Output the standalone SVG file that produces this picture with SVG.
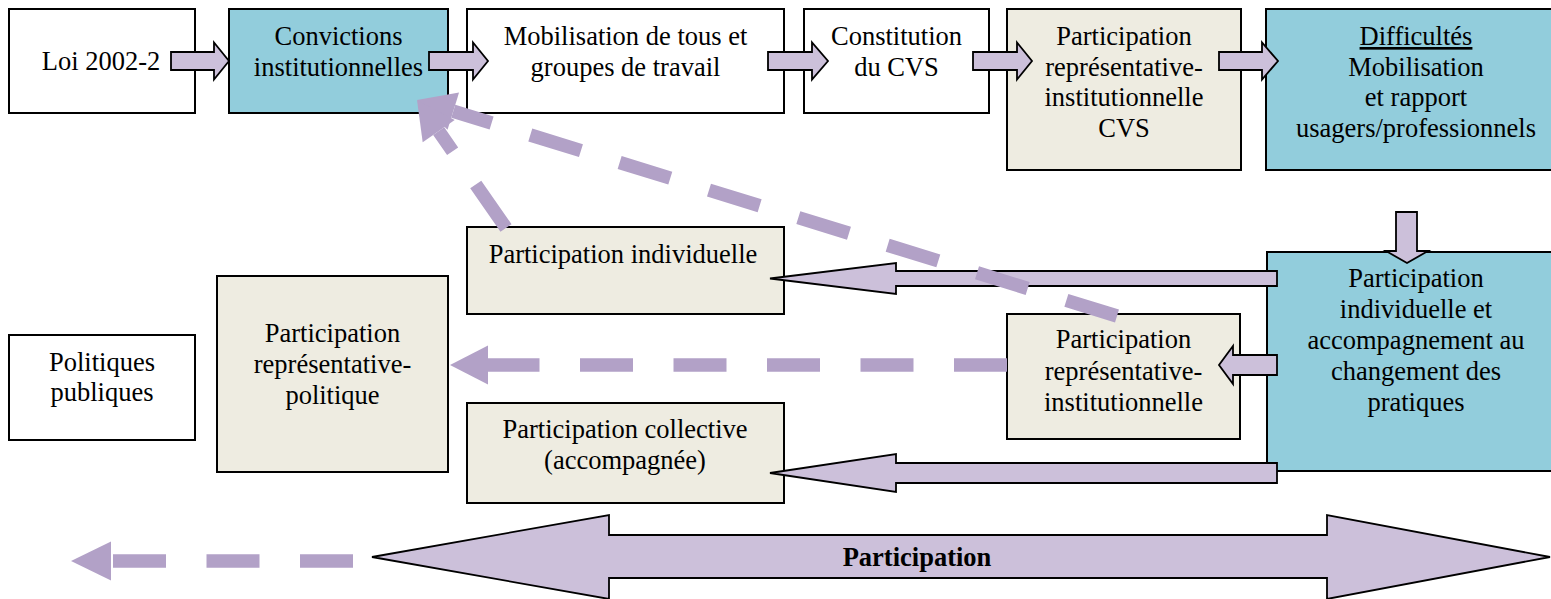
<svg xmlns="http://www.w3.org/2000/svg" width="1551" height="599" viewBox="0 0 1551 599">
<style>
.box{stroke:#000;stroke-width:2}
.white{fill:#fff}
.blue{fill:#92CDDC}
.beige{fill:#EEECE1}
.blk{fill:#CCC0DA;stroke:#000;stroke-width:1.8;stroke-linejoin:miter}
.dash{fill:none;stroke:#B2A1C7;stroke-width:13.5;stroke-dasharray:53 40.5}
.head{fill:#B2A1C7}
text{font-family:"Liberation Serif","Times New Roman",serif;font-size:26.5px;fill:#000;text-anchor:middle}
.bold{font-weight:bold}
.ul{text-decoration:underline}
</style>
<rect width="1551" height="599" fill="#fff"/>
<g id="loi"><rect class="box white" x="9" y="9" width="186" height="104"/><text x="101" y="70">Loi 2002-2</text></g>
<g id="convictions"><rect class="box blue" x="229" y="9" width="219" height="104"/><text x="338.5" y="45">Convictions</text><text x="338.5" y="76">institutionnelles</text></g>
<g id="mobilisation"><rect class="box white" x="467" y="9" width="317" height="104"/><text x="625.5" y="45">Mobilisation de tous et</text><text x="625.5" y="76">groupes de travail</text></g>
<g id="constitution"><rect class="box white" x="804" y="9" width="185" height="104"/><text x="896.5" y="45">Constitution</text><text x="896.5" y="76">du CVS</text></g>
<g id="cvs"><rect class="box beige" x="1007" y="9" width="234" height="161"/><text x="1124" y="45">Participation</text><text x="1124" y="75.7">représentative-</text><text x="1124" y="106.4">institutionnelle</text><text x="1124" y="137">CVS</text></g>
<g id="difficultes"><rect class="box blue" x="1266" y="9" width="300" height="161"/><text x="1416" y="45"><tspan class="ul">Difficultés</tspan></text><text x="1416" y="75.7">Mobilisation</text><text x="1416" y="106.4">et rapport</text><text x="1416" y="137">usagers/professionnels</text></g>
<g id="part-indiv"><rect class="box beige" x="467" y="227" width="317" height="87"/><text x="623" y="263">Participation individuelle</text></g>
<g id="part-coll"><rect class="box beige" x="467" y="403" width="317" height="100"/><text x="625" y="438">Participation collective</text><text x="625" y="469">(accompagnée)</text></g>
<g id="politiques"><rect class="box white" x="9" y="335" width="186" height="105"/><text x="102" y="370.5">Politiques</text><text x="102" y="401">publiques</text></g>
<g id="repr-politique"><rect class="box beige" x="217" y="276" width="231" height="196"/><text x="332.5" y="342">Participation</text><text x="332.5" y="373">représentative-</text><text x="332.5" y="404">politique</text></g>
<g id="repr-inst"><rect class="box beige" x="1007" y="314" width="233" height="125"/><text x="1123.5" y="348">Participation</text><text x="1123.5" y="379.5">représentative-</text><text x="1123.5" y="411">institutionnelle</text></g>
<g id="indiv-accomp"><rect class="box blue" x="1267" y="252" width="299" height="219"/><text x="1416" y="287">Participation</text><text x="1416" y="318">individuelle et</text><text x="1416" y="348.5">accompagnement au</text><text x="1416" y="379.5">changement des</text><text x="1416" y="410.5">pratiques</text></g>
<g id="connectors">
<path class="blk" d="M171,52 H214 V42.5 L229,61 L214,79.5 V70 H171 Z"/>
<path class="blk" d="M429,52 H473 V42.5 L488,61 L473,79.5 V70 H429 Z"/>
<path class="blk" d="M768,52 H812 V42.5 L828,61 L812,79.5 V70 H768 Z"/>
<path class="blk" d="M973,52 H1017 V42.5 L1032,61 L1017,79.5 V70 H973 Z"/>
<path class="blk" d="M1219,52 H1262 V42.5 L1278,61 L1262,79.5 V70 H1219 Z"/>
<path class="blk" d="M1396,212 H1417 V251 H1428 L1407,263 L1386,251 H1396 Z"/>
<path class="blk" d="M1277,271 H896 V263 L770,278.5 L896,294 V286 H1277 Z"/>
<path class="blk" d="M1277,463 H896 V454 L770,473 L896,492 V483 H1277 Z"/>
<path class="blk" d="M1277,355 H1233 V346 L1219,365 L1233,384 V375 H1277 Z"/>
<g id="participation-arrow"><path class="blk" d="M372,557 L609,515 V535 H1327 V515 L1550,557 L1327,599 V578 H609 V599 Z"/><text class="bold" x="917" y="566">Participation</text></g>
<path class="dash" d="M1007,365 H488"/>
<polygon class="head" points="450,365 488,345.5 488,384.5"/>
<path class="dash" d="M353,561 H111"/>
<polygon class="head" points="71,561 111,541.5 111,580.5"/>
<path class="dash" d="M1117,316 L453.3,111.2"/>
<polygon class="head" points="417,100 459.05,92.57 447.55,129.83"/>
<path class="dash" d="M506,228 L438.7,131.2"/>
<polygon class="head" points="417,100 454.7,120.1 422.7,142.3"/>
</g>
</svg>
